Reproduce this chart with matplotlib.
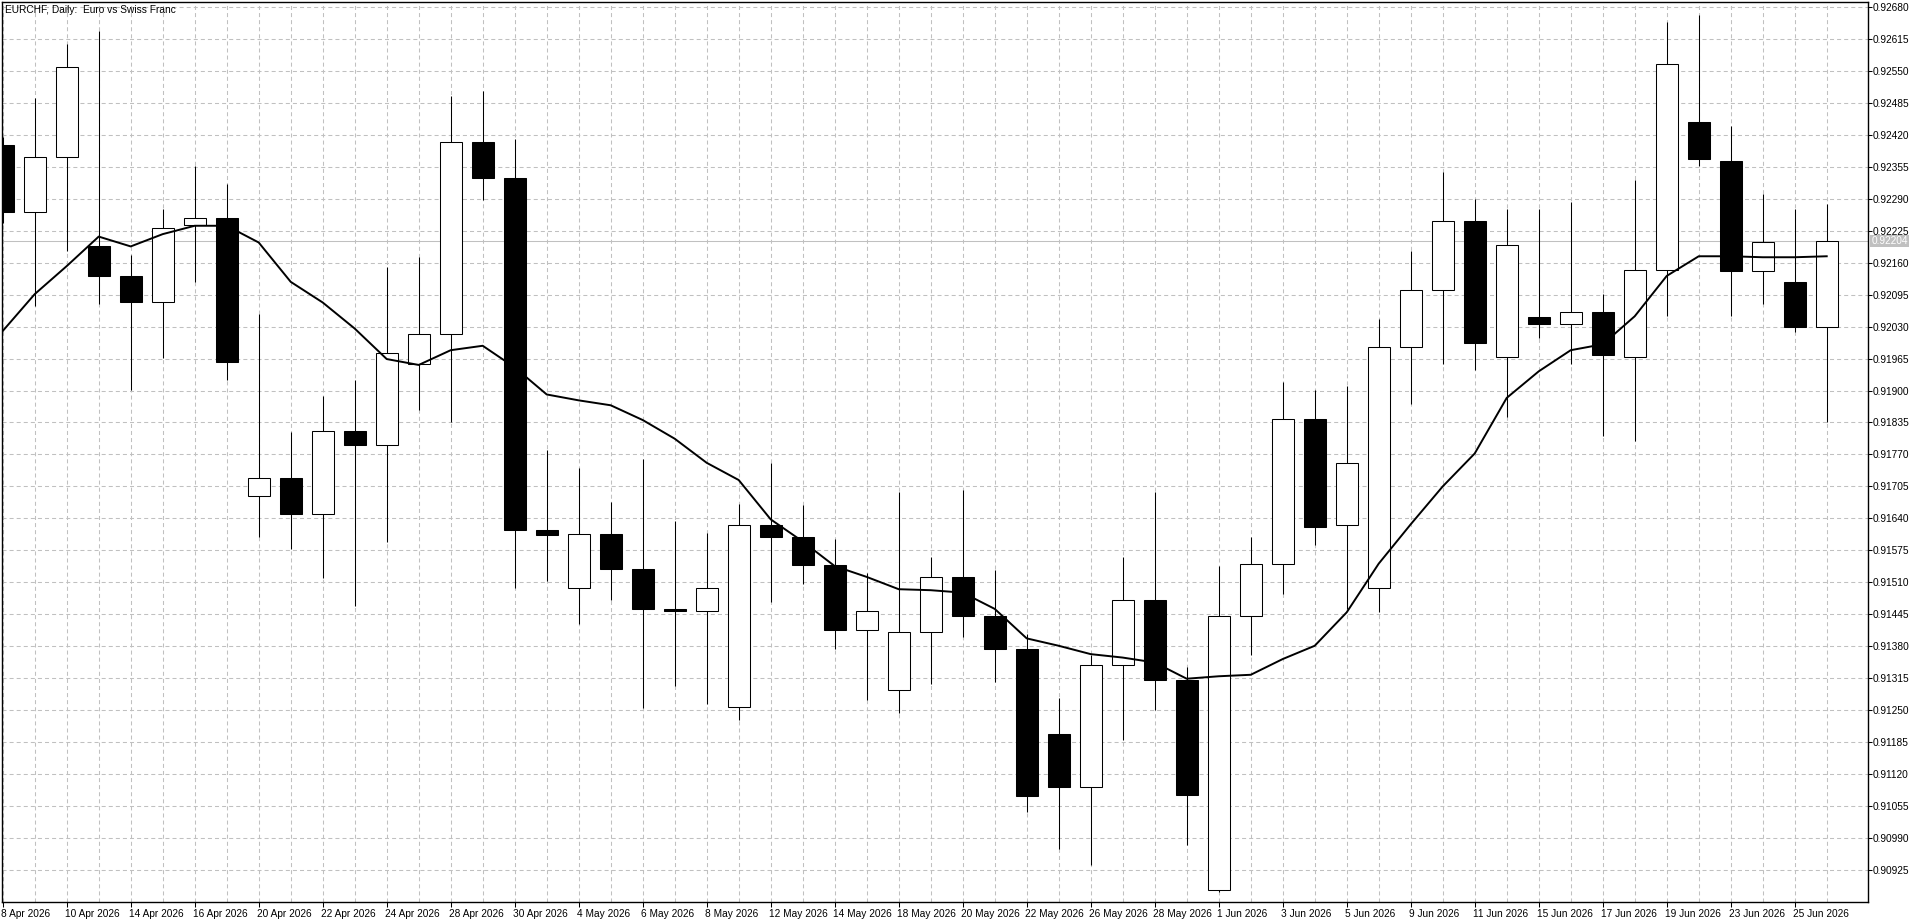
import matplotlib
matplotlib.use("Agg")
import matplotlib.pyplot as plt
import matplotlib.transforms as mtransforms
import numpy as np

# daily EURCHF bars, 8 Apr 2026 .. 26 Jun 2026
opens = [0.92400, 0.92263, 0.92375, 0.92193, 0.92133, 0.92079, 0.92236, 0.92250,
         0.91685, 0.91723, 0.91648, 0.91817, 0.91790, 0.91954, 0.92014, 0.92405,
         0.92333, 0.91616, 0.91499, 0.91608, 0.91538, 0.91456, 0.91451, 0.91257,
         0.91626, 0.91603, 0.91546, 0.91414, 0.91292, 0.91409, 0.91521, 0.91441,
         0.91374, 0.91202, 0.91093, 0.91342, 0.91474, 0.91312, 0.90884, 0.91441,
         0.91548, 0.91842, 0.91626, 0.91499, 0.91989, 0.92104, 0.92245, 0.91969,
         0.92049, 0.92036, 0.92059, 0.91969, 0.92146, 0.92445, 0.92367, 0.92143,
         0.92121, 0.92029]
highs = [0.92415, 0.92494, 0.92604, 0.92631, 0.92176, 0.92270, 0.92357, 0.92320,
         0.92056, 0.91815, 0.91889, 0.91922, 0.92151, 0.92171, 0.92499, 0.92509,
         0.92412, 0.91780, 0.91743, 0.91673, 0.91760, 0.91635, 0.91611, 0.91670,
         0.91752, 0.91668, 0.91598, 0.91528, 0.91693, 0.91561, 0.91698, 0.91536,
         0.91404, 0.91274, 0.91362, 0.91561, 0.91693, 0.91337, 0.91543, 0.91603,
         0.91917, 0.91902, 0.91909, 0.92046, 0.92183, 0.92345, 0.92290, 0.92270,
         0.92270, 0.92283, 0.92096, 0.92328, 0.92649, 0.92664, 0.92437, 0.92300,
         0.92270, 0.92280]
lows = [0.92240, 0.92071, 0.92183, 0.92076, 0.91902, 0.91967, 0.92121, 0.91922,
        0.91603, 0.91578, 0.91519, 0.91461, 0.91591, 0.91860, 0.91835, 0.92288,
        0.91499, 0.91513, 0.91426, 0.91474, 0.91255, 0.91299, 0.91262, 0.91230,
        0.91469, 0.91506, 0.91374, 0.91270, 0.91245, 0.91304, 0.91399, 0.91307,
        0.91043, 0.90968, 0.90936, 0.91190, 0.91250, 0.90976, 0.90881, 0.91362,
        0.91486, 0.91586, 0.91456, 0.91449, 0.91872, 0.91954, 0.91942, 0.91847,
        0.92006, 0.91954, 0.91807, 0.91797, 0.92051, 0.92357, 0.92051, 0.92076,
        0.92020, 0.91835]
closes = [0.92263, 0.92375, 0.92557, 0.92133, 0.92079, 0.92231, 0.92250, 0.91959,
          0.91723, 0.91648, 0.91817, 0.91790, 0.91977, 0.92014, 0.92405, 0.92333,
          0.91616, 0.91606, 0.91608, 0.91538, 0.91456, 0.91451, 0.91499, 0.91626,
          0.91603, 0.91546, 0.91414, 0.91451, 0.91409, 0.91521, 0.91441, 0.91374,
          0.91075, 0.91093, 0.91342, 0.91474, 0.91312, 0.91078, 0.91441, 0.91548,
          0.91842, 0.91623, 0.91752, 0.91989, 0.92104, 0.92245, 0.91997, 0.92196,
          0.92036, 0.92059, 0.91972, 0.92146, 0.92564, 0.92370, 0.92143, 0.92203,
          0.92029, 0.92204]

# moving average line as drawn on the chart
ma = [0.92021, 0.92096, 0.92153, 0.92213, 0.92193, 0.92218, 0.92235, 0.92235,
      0.92201, 0.92121, 0.92079, 0.92026, 0.91964, 0.91952, 0.91982, 0.91991,
      0.91947, 0.91892, 0.91880, 0.91870, 0.91840, 0.91802, 0.91753, 0.91718,
      0.91638, 0.91593, 0.91543, 0.91521, 0.91496, 0.91494, 0.91489, 0.91456,
      0.91396, 0.91381, 0.91364, 0.91357, 0.91347, 0.91314, 0.91319, 0.91322,
      0.91354, 0.91381, 0.91449, 0.91548, 0.91628, 0.91705, 0.91772, 0.91885,
      0.91939, 0.91982, 0.91994, 0.92051, 0.92133, 0.92173, 0.92173, 0.92171,
      0.92171, 0.92173]

date_labels = ["8 Apr 2026", "10 Apr 2026", "14 Apr 2026", "16 Apr 2026", "20 Apr 2026",
               "22 Apr 2026", "24 Apr 2026", "28 Apr 2026", "30 Apr 2026", "4 May 2026",
               "6 May 2026", "8 May 2026", "12 May 2026", "14 May 2026", "18 May 2026",
               "20 May 2026", "22 May 2026", "26 May 2026", "28 May 2026", "1 Jun 2026",
               "3 Jun 2026", "5 Jun 2026", "9 Jun 2026", "11 Jun 2026", "15 Jun 2026",
               "17 Jun 2026", "19 Jun 2026", "23 Jun 2026", "25 Jun 2026"]

last_price = 0.92204
title = "EURCHF, Daily:  Euro vs Swiss Franc"

plt.rcParams['font.family'] = ['Liberation Sans', 'DejaVu Sans']
plt.rcParams['lines.scale_dashes'] = False

W, H = 1920, 923
fig = plt.figure(figsize=(W / 100, H / 100), dpi=100)
ax = fig.add_axes([2 / W, (H - 902) / H, 1866 / W, 900 / H])

o = np.array(opens); c = np.array(closes)
x = np.arange(len(o))
up = c >= o

# grid
ax.set_axisbelow(True)
for xi in x:
    ax.axvline(xi, color="#c0c0c0", lw=0.75, dashes=(2.9, 2.2), zorder=0)
yt = np.round(np.arange(0.90925, 0.92681, 0.00065), 5)
for yv in yt:
    ax.axhline(yv, color="#c0c0c0", lw=0.75, dashes=(2.9, 2.2), zorder=0)

# last price line
ax.axhline(last_price, color="#c0c0c0", lw=0.75, zorder=1)

# candles
ax.vlines(x, lows, highs, color="black", lw=0.75, zorder=2)
body_lo = np.minimum(o, c)
body_h = np.maximum(np.abs(c - o), 0.000012)
ax.bar(x, body_h, bottom=body_lo, width=0.69,
       color=np.where(up, "white", "black"), edgecolor="black", linewidth=0.75, zorder=3)

ax.plot(x, ma, color="black", lw=1.4, zorder=4)

ax.set_xlim(-0.022, 58.29)
ax.set_ylim(0.90860, 0.92690)

ax.yaxis.tick_right()
ax.set_yticks(yt)
ax.set_yticklabels([f"{v:.5f}" for v in yt])
ax.set_xticks(x[::2])
ax.set_xticklabels(date_labels)
ax.tick_params(axis="y", direction="out", length=3, width=0.75, pad=0.5, labelsize=7.3)
ax.tick_params(axis="x", direction="out", length=3.5, width=0.75, pad=1.5, labelsize=7.3)
shift = mtransforms.ScaledTranslation(-2 / 100, 0, fig.dpi_scale_trans)
for lab in ax.get_xticklabels():
    lab.set_horizontalalignment("left")
    lab.set_transform(lab.get_transform() + shift)

for s in ax.spines.values():
    s.set_linewidth(1.0)
    s.set_color("black")

ax.text(0.0015, 0.997, title, transform=ax.transAxes, fontsize=7.3, va="top", ha="left")

# price tag on the right axis
ax.annotate(f"{last_price:.5f}", xy=(1, last_price), xycoords=("axes fraction", "data"),
            xytext=(2.5, 0), textcoords="offset points", va="center", ha="left",
            fontsize=7.3, color="white",
            bbox=dict(boxstyle="square,pad=0.1", fc="#c0c0c0", ec="none"))

fig.savefig("out.png", dpi=100)
